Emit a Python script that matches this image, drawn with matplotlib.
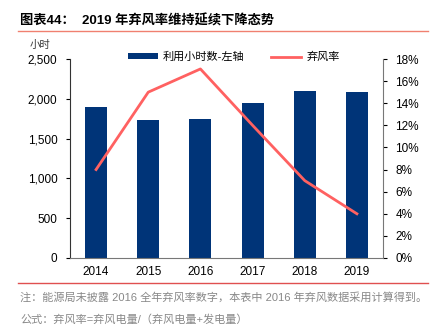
import matplotlib.pyplot as plt
from matplotlib.ticker import FuncFormatter, PercentFormatter

plt.rcParams['font.family'] = ['Liberation Sans', 'Noto Sans CJK SC', 'DejaVu Sans']

years = ['2014', '2015', '2016', '2017', '2018', '2019']
hours = [1900, 1728, 1742, 1948, 2095, 2082]
curtail = [8.0, 15.0, 17.1, 12.0, 7.0, 4.0]

bar_color = '#003478'
line_color = '#FF6161'

fig = plt.figure(figsize=(4.38, 3.29), dpi=100)
ax = fig.add_axes([70 / 438, 1 - 258 / 329, 313 / 438, 199 / 329])
x = range(len(years))
ax.bar(x, hours, width=0.42, color=bar_color, label='利用小时数-左轴', zorder=2)
ax.set_xlim(-0.5, 5.5)
ax.set_ylim(0, 2500)
ax.set_yticks(range(0, 2501, 500))
ax.yaxis.set_major_formatter(FuncFormatter(lambda v, p: f'{int(v):,}'))
ax.set_xticks(list(x))
ax.set_xticklabels(years)
for s in ['top', 'right']:
    ax.spines[s].set_visible(False)
ax.spines['left'].set_color('#333333')
ax.spines['bottom'].set_color('#777777')
ax.tick_params(axis='y', length=3, width=0.8, labelsize=8.5, pad=6)
ax.tick_params(axis='x', length=0, labelsize=8.5, pad=6)

ax2 = ax.twinx()
ax2.plot(x, curtail, color=line_color, lw=2, label='弃风率', zorder=3)
ax2.set_ylim(0, 18)
ax2.set_yticks(range(0, 19, 2))
ax2.yaxis.set_major_formatter(PercentFormatter(decimals=0))
for s in ['top', 'left', 'bottom']:
    ax2.spines[s].set_visible(False)
ax2.spines['right'].set_color('#777777')
ax2.tick_params(axis='y', length=3, width=0.8, labelsize=8.5, pad=6)

h1, l1 = ax.get_legend_handles_labels()
h2, l2 = ax2.get_legend_handles_labels()
fig.legend(h1 + h2, l1 + l2, ncol=2, frameon=False, fontsize=8,
           loc='center', bbox_to_anchor=(234 / 438, 1 - 57 / 329),
           handlelength=2.7, handleheight=0.5, handletextpad=0.5,
           columnspacing=2.4, borderpad=0)

fig.text(40 / 438, 1 - 45 / 329, '小时', fontsize=7.5, color='#333333',
         ha='center', va='center')

fig.text(20 / 438, 1 - 21 / 329, '图表44：  2019 年弃风率维持延续下降态势',
         fontsize=9.5, fontweight='bold', va='center')
fig.add_artist(plt.Line2D([18 / 438, 428 / 438], [1 - 31 / 329, 1 - 31 / 329],
                          color='#F08070', lw=1))
fig.add_artist(plt.Line2D([18 / 438, 428 / 438], [1 - 283 / 329, 1 - 283 / 329],
                          color='#E05050', lw=1))
fig.text(20 / 438, 1 - 297 / 329,
         '注：能源局未披露 2016 全年弃风率数字，本表中 2016 年弃风数据采用计算得到。',
         fontsize=8, color='#888888', va='center')
fig.text(20 / 438, 1 - 320 / 329, '公式：弃风率=弃风电量/（弃风电量+发电量）',
         fontsize=8, color='#888888', va='center')

fig.savefig('out.png', dpi=100)
